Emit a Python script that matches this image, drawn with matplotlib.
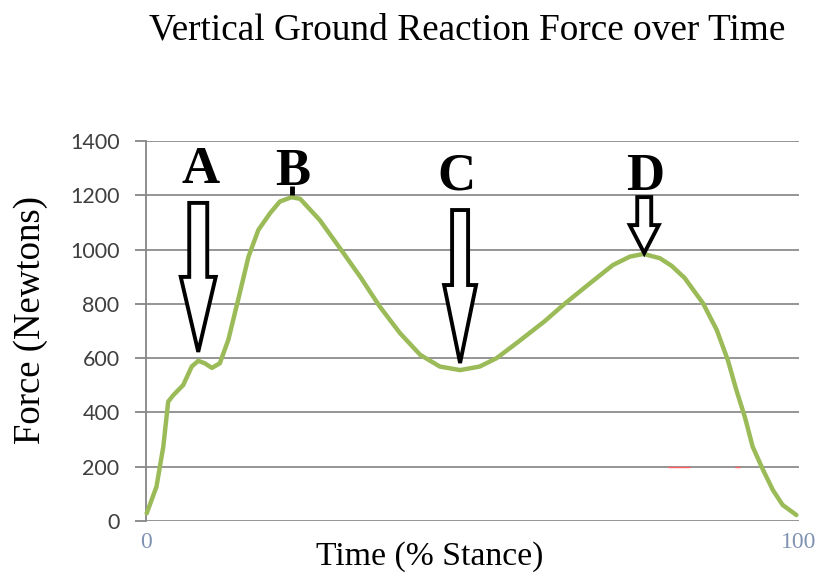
import numpy as np
import matplotlib
matplotlib.use("Agg")
import matplotlib.pyplot as plt
import matplotlib.transforms as mtransforms
from matplotlib.patches import Polygon

# -----------------------------------------------------------------------------
# Data
# -----------------------------------------------------------------------------
stance = [0.1, 1.6, 2.65, 3.4, 4.2, 5.7, 7.0, 8.0, 9.0, 10.1, 11.3, 12.6,
          14.1, 15.7, 17.2, 19.0, 20.5, 22.3, 23.6, 26.6, 30.0, 32.8, 35.8,
          38.9, 42.0, 45.0, 48.1, 51.1, 53.7, 57.0, 61.0, 64.1, 68.0, 71.5,
          74.1, 76.2, 78.7, 80.5, 82.5, 85.3, 87.4, 89.1, 90.4, 91.7, 92.9,
          94.5, 96.0, 97.5, 99.6]
force = [28, 126, 274, 440, 464, 501, 569, 590, 581, 564, 581, 667,
         814, 974, 1072, 1134, 1177, 1193, 1187, 1109, 995, 900, 790,
         692, 612, 569, 556, 569, 600, 660, 735, 800, 876, 943,
         974, 984, 968, 940, 895, 802, 704, 593, 483, 384, 274,
         188, 114, 59, 22]

y_ticks = [0, 200, 400, 600, 800, 1000, 1200, 1400]
x_ticks = [0, 100]

# faint red marks sitting on the 200 N gridline
red_start = [79.9, 90.2]
red_end = [83.3, 91.0]
red_level = 200

# event letters and where they sit
letters = ["A", "B", "C", "D"]
letter_x = [8.4, 22.5, 47.6, 76.4]
letter_y = [1245, 1238, 1220, 1220]

# block arrows: tip position (data) and shape in pixels
arrow_x = [8.0, 48.1, 76.3]
arrow_tip = [623, 582, 987]
arrow_len = [149, 153, 56]
arrow_head = [75, 78, 28]
arrow_head_hw = [17.5, 16, 14.5]
arrow_shaft_hw = [9, 8, 7]

GREEN = "#9bbb59"
GRID = "#8c8c8c"

# -----------------------------------------------------------------------------
# Figure
# -----------------------------------------------------------------------------
W, H = 821, 577
fig = plt.figure(figsize=(W / 100, H / 100), dpi=100)
ax = fig.add_axes([146 / W, 1 - 521 / H, (799 - 146) / W, (521 - 141) / H])

ax.plot(stance, force, color=GREEN, lw=3.2, solid_joinstyle="round",
        solid_capstyle="round", zorder=3, clip_on=False)
ax.hlines([red_level] * len(red_start), red_start, red_end, color="#ff6060",
          lw=1.0, zorder=2)

ax.set_xlim(0, 100)
ax.set_ylim(0, 1400)
ax.set_yticks(y_ticks)
ax.set_xticks(x_ticks)
ax.yaxis.grid(True, color=GRID, lw=1.3)
ax.set_axisbelow(True)
for s in ["top", "right", "bottom"]:
    ax.spines[s].set_visible(False)
ax.spines["left"].set_color("#868686")
ax.spines["left"].set_linewidth(1.3)

ax.tick_params(axis="y", length=8, width=1.3, color="#868686", pad=11,
               labelsize=15.5, labelcolor="#3f3f3f")
for lab in ax.get_yticklabels():
    lab.set_fontfamily("Lato")
ax.tick_params(axis="x", length=0, pad=8, labelsize=17, labelcolor="#8093b3")
for lab in ax.get_xticklabels():
    lab.set_fontfamily("Liberation Serif")

# -----------------------------------------------------------------------------
# Annotations
# -----------------------------------------------------------------------------
for i in range(len(arrow_x)):
    L, hl = arrow_len[i], arrow_head[i]
    hh, sh = arrow_head_hw[i], arrow_shaft_hw[i]
    verts = [(0, 0), (-hh, hl), (-sh, hl), (-sh, L), (sh, L), (sh, hl), (hh, hl)]
    tr = (mtransforms.Affine2D().scale(fig.dpi / 100)
          + mtransforms.ScaledTranslation(arrow_x[i], arrow_tip[i], ax.transData))
    ax.add_patch(Polygon(verts, closed=True, facecolor="white", edgecolor="black",
                         lw=2.8, joinstyle="miter", transform=tr, clip_on=False,
                         zorder=5))

# small black tick above peak B
b_peak = max(force)
b_x = stance[force.index(b_peak)]
tr = (mtransforms.Affine2D().scale(fig.dpi / 100)
      + mtransforms.ScaledTranslation(b_x, b_peak, ax.transData))
ax.plot([0, 0], [2, 11], color="black", lw=3.5, transform=tr,
        clip_on=False, zorder=5, solid_capstyle="butt")

for lab, lx, ly in zip(letters, letter_x, letter_y):
    ax.text(lx, ly, lab, ha="center", va="baseline", fontsize=38,
            fontweight="bold", family="Liberation Serif", color="black",
            zorder=6, clip_on=False)

fig.text(467 / W, 1 - 40 / H, "Vertical Ground Reaction Force over Time",
         ha="center", va="baseline", fontsize=26.8, family="Liberation Serif",
         color="black")
fig.text(430 / W, 1 - 557 / H, "Time (% Stance)", ha="center", va="center",
         fontsize=24.3, family="Liberation Serif", color="black")
fig.text(31 / W, 1 - 320 / H, "Force (Newtons)", ha="center", va="center",
         rotation=90, fontsize=26.5, family="Liberation Serif", color="black")

fig.savefig("out.png", dpi=100, facecolor="white")
